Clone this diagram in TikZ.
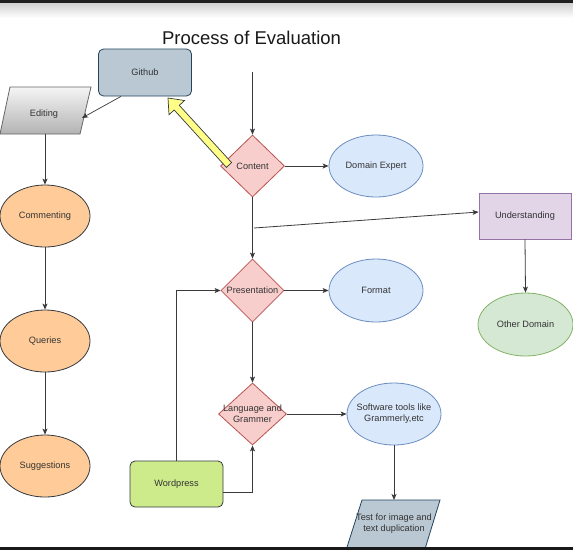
\documentclass[tikz,border=0pt]{standalone}
\usepackage{fontspec}
\setmainfont{Liberation Sans}
\usetikzlibrary{shapes.geometric,arrows.meta}
\definecolor{txtc}{HTML}{333333}
\definecolor{linec}{HTML}{3A3A3A}
\definecolor{ghF}{HTML}{BAC8D3}
\definecolor{ghS}{HTML}{23445D}
\definecolor{orF}{HTML}{FFCC99}
\definecolor{dkS}{HTML}{36393D}
\definecolor{blF}{HTML}{DAE8FC}
\definecolor{blS}{HTML}{6C8EBF}
\definecolor{grF}{HTML}{D5E8D4}
\definecolor{grS}{HTML}{82B366}
\definecolor{puF}{HTML}{E1D5E7}
\definecolor{puS}{HTML}{9673A6}
\definecolor{diaF}{HTML}{F8CECC}
\definecolor{diaS}{HTML}{B85450}
\definecolor{wpF}{HTML}{CDEB8B}
\definecolor{yeF}{HTML}{FFFF88}
\definecolor{edTop}{HTML}{F5F5F5}
\definecolor{edBot}{HTML}{B3B3B3}
\definecolor{edS}{HTML}{666666}
\tikzset{
  lbl/.style={font=\fontsize{9.2}{11}\selectfont, text=txtc, align=center, inner sep=0pt},
  conn/.style={draw=linec, line width=0.8pt, -{Stealth[length=6pt,width=5pt,inset=1.5pt]}},
  shp/.style={draw, line width=0.8pt, inner sep=0pt},
  ell/.style={shp, ellipse},
  dia/.style={shp, diamond, draw=diaS, fill=diaF},
}
\begin{document}
\begin{tikzpicture}[x=1pt,y=-1pt]
\useasboundingbox (0,0) rectangle (573,550);
% window bars
\fill[white] (0,0) rectangle (573,550);
\shade[top color=black!18, bottom color=white] (0,3) rectangle (573,18);
\fill[black!88] (0,0) rectangle (573,3);
% title
\node[font=\fontsize{18.5}{22}\selectfont, text=black!90, inner sep=0pt] (title) at (251.5,38) {Process of Evaluation};
% left column
\node[shp, rounded corners=5pt, fill=ghF, draw=ghS, minimum width=93pt, minimum height=47pt, lbl] (github) at (145,72.5) {Github};
\shade[top color=edTop, bottom color=edBot, draw=edS, line width=0.8pt] (10,87) -- (91,87) -- (80,134) -- (0,134) -- cycle;
\node[lbl, minimum width=80pt, minimum height=40pt] (editing) at (44,114) {Editing};
\coordinate (editR) at (82,118);
\coordinate (editB) at (45,134);
\node[ell, fill=orF, draw=dkS, minimum width=90pt, minimum height=62pt] (commenting) at (45,216) {};
\node[lbl] (commentingT) at (commenting) {Commenting};
\node[ell, fill=orF, draw=dkS, minimum width=90pt, minimum height=62pt] (queries) at (45,341) {};
\node[lbl] (queriesT) at (queries) {Queries};
\node[ell, fill=orF, draw=dkS, minimum width=90pt, minimum height=62pt] (suggestions) at (45,466) {};
\node[lbl] (suggestionsT) at (suggestions) {Suggestions};
% centre column
\coordinate (topIn) at (252.5,72);
\node[dia, minimum width=64pt, minimum height=62pt] (content) at (252.5,166) {};
\node[lbl] (contentT) at (content) {Content};
\node[dia, minimum width=63pt, minimum height=63pt] (presentation) at (252.5,290.5) {};
\node[lbl] (presentationT) at (presentation) {Presentation};
\node[dia, minimum width=68pt, minimum height=62pt] (language) at (252.5,414) {};
\node[lbl] (languageT) at (language) {Language and\\Grammer};
\node[shp, rounded corners=5pt, fill=wpF, draw=dkS, minimum width=93pt, minimum height=46pt, lbl] (wordpress) at (176.5,484) {Wordpress};
% right column
\node[ell, fill=blF, draw=blS, minimum width=94pt, minimum height=62pt] (domain) at (376,166) {};
\node[lbl] (domainT) at (domain) {Domain Expert};
\node[ell, fill=blF, draw=blS, minimum width=94pt, minimum height=63pt] (format) at (376,290.5) {};
\node[lbl] (formatT) at (format) {Format};
\node[ell, fill=blF, draw=blS, minimum width=94pt, minimum height=62pt] (software) at (394,414) {};
\node[lbl] (softwareT) at (software) {Software tools like\\Grammerly,etc};
\fill[ghF, draw=ghS, line width=0.8pt] (362,500) -- (440,500) -- (425,549) -- (346.4,549) -- cycle;
\node[lbl] (test) at (394,523.5) {Test for image and\\text duplication};
\coordinate (testT) at (394,500);
\node[shp, fill=puF, draw=puS, minimum width=92pt, minimum height=46pt, lbl] (understand) at (525,216) {Understanding};
\node[ell, fill=grF, draw=grS, minimum width=95pt, minimum height=63pt] (otherdom) at (525.5,324.5) {};
\node[lbl] (otherdomT) at (otherdom) {Other Domain};
\coordinate (ustart) at (254,228);
% yellow arrow
\filldraw[fill=yeF, draw=dkS, line width=0.7pt, line join=miter]
  (231.6,162.6) -- (179.3,105.3) -- (184.5,100.5) -- (168,98) -- (169.0,114.7) -- (174.2,110.0) -- (226.4,167.4) -- cycle;
% connectors
\draw[conn, line width=0.7pt] ([xshift=-24pt]github.south) -- (editR);
\draw[conn] (editB) -- (commenting.north);
\draw[conn] (commenting.south) -- (queries.north);
\draw[conn] (queries.south) -- (suggestions.north);
\draw[conn] (topIn) -- (content.north);
\draw[conn] (content.east) -- (domain.west);
\draw[conn] (content.south) -- (presentation.north);
\draw[conn] (ustart) -- ([yshift=4pt]understand.west);
\draw[conn] (understand.south) -- (otherdom.north);
\draw[conn] (presentation.east) -- (format.west);
\draw[conn] (presentation.south) -- (language.north);
\draw[conn] (language.east) -- (software.west);
\draw[conn] (software.south) -- (testT);
\draw[conn] (wordpress.north) |- (presentation.west);
\draw[conn] ([yshift=-8pt]wordpress.east) -| (language.south);
% bottom bar
\fill[black!90] (0,547) rectangle (573,550);
\end{tikzpicture}
\end{document}
